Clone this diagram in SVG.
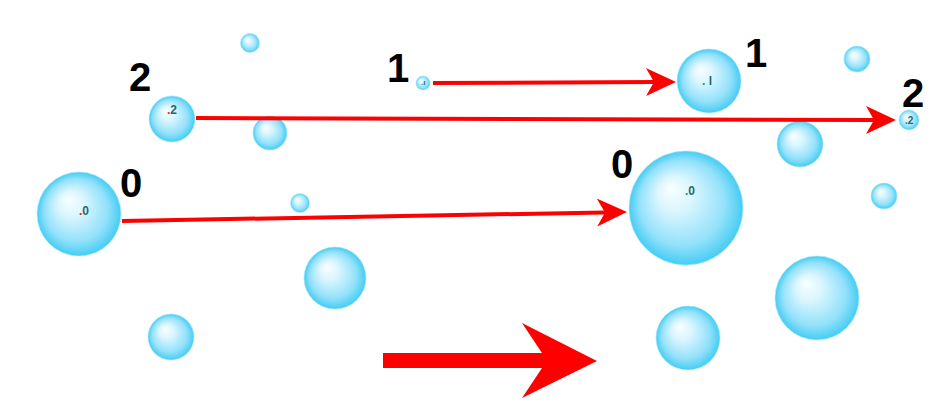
<svg xmlns="http://www.w3.org/2000/svg" width="945" height="403" viewBox="0 0 945 403">
<style>
.b{fill:url(#bub);stroke:#a8eafc;stroke-width:0.6}
.big{font-family:"Liberation Sans",Arial,sans-serif;font-weight:bold;font-size:40px;fill:#000}
.tiny{font-family:"Liberation Sans",Arial,sans-serif;font-weight:bold;font-size:12px;fill:#1e6a6e}
.con{stroke:#ff0000;stroke-width:4;fill:none;marker-end:url(#ah)}
</style>
<defs>
<radialGradient id="bub" cx="0.5" cy="0.5" r="0.5" fx="0.36" fy="0.32">
<stop offset="0" stop-color="#f9feff"/>
<stop offset="0.3" stop-color="#dcf6fe"/>
<stop offset="0.75" stop-color="#92e1fa"/>
<stop offset="1" stop-color="#45ccf3"/>
</radialGradient>
<marker id="ah" viewBox="-10 -15 34 30" markerWidth="34" markerHeight="30" refX="0" refY="0" orient="auto" markerUnits="userSpaceOnUse">
<path d="M-8,-14 L22,0 L-8,14 L0,0 Z" fill="#ff0000"/>
</marker>
</defs>
<rect width="945" height="403" fill="#ffffff"/>

<g id="bubble-left-0">
<circle class="b" cx="79" cy="214" r="42"/>
<text class="tiny" x="79" y="215"><tspan fill="#d03020">.</tspan>0</text>
<text class="big" x="120" y="197">0</text>
</g>
<g id="bubble-left-2">
<circle class="b" cx="172" cy="119" r="23"/>
<text class="tiny" x="167" y="114"><tspan fill="#d03020">.</tspan>2</text>
<text class="big" x="129" y="91">2</text>
</g>
<g id="bubble-left-1">
<circle class="b" cx="423" cy="83" r="7"/>
<text class="tiny" x="421" y="85" style="font-size:8px"><tspan fill="#20a040">.</tspan>ı</text>
<text class="big" x="387" y="82">1</text>
</g>
<g id="bubble-right-1">
<circle class="b" cx="709" cy="81" r="32"/>
<text class="tiny" x="702" y="85"><tspan fill="#20a040">.</tspan> l</text>
<text class="big" x="745" y="67">1</text>
</g>
<g id="bubble-right-2">
<circle class="b" cx="909" cy="120" r="10"/>
<text class="tiny" x="905" y="124" style="font-size:10px"><tspan fill="#20a040">.</tspan>2</text>
<text class="big" x="902" y="107">2</text>
</g>
<g id="bubble-right-0">
<circle class="b" cx="686" cy="208" r="57"/>
<text class="tiny" x="685" y="195"><tspan fill="#20a040">.</tspan>0</text>
<text class="big" x="611" y="178">0</text>
</g>

<g id="bubble-a"><circle class="b" cx="250" cy="43" r="9.5"/></g>
<g id="bubble-b"><circle class="b" cx="270" cy="133" r="17"/></g>
<g id="bubble-c"><circle class="b" cx="300" cy="203" r="9.5"/></g>
<g id="bubble-d"><circle class="b" cx="335" cy="278" r="31"/></g>
<g id="bubble-e"><circle class="b" cx="171" cy="337" r="23"/></g>
<g id="bubble-f"><circle class="b" cx="688" cy="338" r="32"/></g>
<g id="bubble-g"><circle class="b" cx="817" cy="298" r="42"/></g>
<g id="bubble-h"><circle class="b" cx="800" cy="144" r="23"/></g>
<g id="bubble-i"><circle class="b" cx="857" cy="59" r="13"/></g>
<g id="bubble-j"><circle class="b" cx="884" cy="196" r="13"/></g>

<g id="connectors">
<line class="con" x1="433" y1="83" x2="654" y2="82"/>
<line class="con" x1="196" y1="118" x2="874" y2="120"/>
<line class="con" x1="122" y1="221" x2="605" y2="212.4"/>
</g>

<g id="big-arrow">
<polygon points="383,353 542,353 522,323 597,361 522,398 542,368 383,368" fill="#ff0000"/>
</g>
</svg>
